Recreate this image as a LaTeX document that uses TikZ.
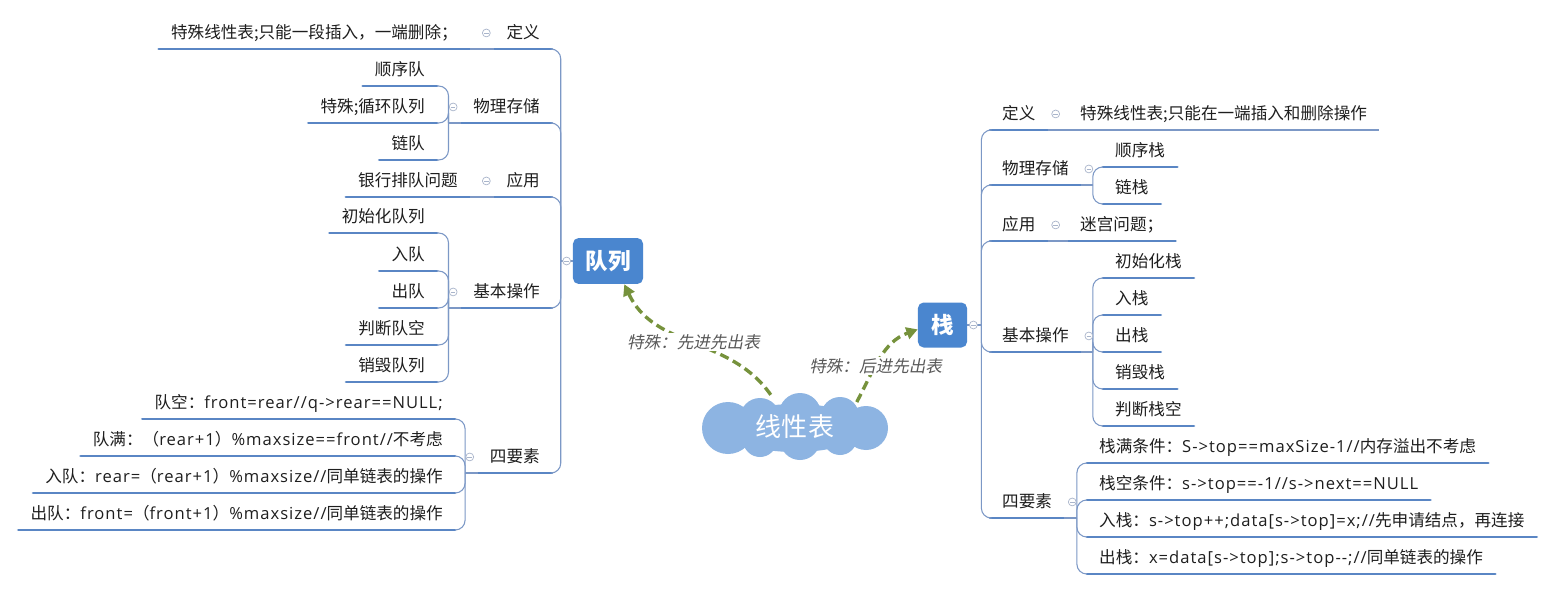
\documentclass[tikz,border=0pt]{standalone}
\usepackage{fontspec}
\setmainfont{Noto Sans CJK SC}
\newfontfamily\notefont[FakeSlant=0.2]{Noto Sans CJK SC}
\newfontfamily\enfont[LetterSpace=6]{Open Sans}
\newcommand\en[1]{{\enfont#1}}
\usetikzlibrary{arrows.meta, shapes.geometric}
\definecolor{mmblue}{HTML}{4A86CF}
\definecolor{mmcloud}{HTML}{8DB4E2}
\definecolor{mmline}{HTML}{5A86C4}
\definecolor{mmthin}{HTML}{7C98C6}
\definecolor{mmolive}{HTML}{76923C}
\definecolor{mmtext}{HTML}{1E1E1E}
\definecolor{mmnote}{HTML}{595959}
\definecolor{mmfold}{HTML}{A9B5CB}
\newcommand\mmfont{\fontsize{11.8pt}{14pt}\selectfont}
\tikzset{
  every picture/.style={line join=round},
  topic/.style={font=\mmfont, text=mmtext, inner xsep=8.5pt, inner ysep=4.5pt,
    text height=9pt, text depth=2.5pt},
  under/.style={append after command={(\tikzlastnode.south west)
    edge[uline] (\tikzlastnode.south east)}},
  ltopic/.style={topic, under, anchor=south east},
  rtopic/.style={topic, under, anchor=south west},
  rtopicthin/.style={topic, anchor=south west, append after command={
    (\tikzlastnode.south west) edge[link] (\tikzlastnode.south east)}},
  uline/.style={draw=mmline, line width=2.1pt, line cap=round},
  link/.style={draw=mmthin, line width=0.75pt, rounded corners=7pt},
  fold/.style={circle, draw=mmfold, fill=white, line width=0.5pt, minimum size=5.6pt,
    inner sep=0pt, path picture={\draw[mmfold, line width=0.5pt]
      ([xshift=-1.6pt]path picture bounding box.center) --
      ([xshift=1.6pt]path picture bounding box.center);}},
  root/.style={rectangle, rounded corners=4pt, fill=mmblue, text=white, inner sep=0pt,
    font=\fontsize{16pt}{18pt}\selectfont\bfseries},
  cloudnode/.style={ellipse, text=white, inner sep=0pt, minimum width=132pt,
    minimum height=47pt, font=\fontsize{18.5pt}{20pt}\selectfont},
  puff/.style={fill=mmcloud},
  rel/.style={-{Triangle[length=8pt, width=8.5pt]}, draw=mmolive, line width=2.4pt,
    dash pattern=on 6.5pt off 3.5pt},
  lbl/.style={font=\notefont\mmfont, text=mmnote, fill=white, inner sep=1pt},
}

\begin{document}
\begin{tikzpicture}[x=0.025cm, y=-0.025cm]
\fill[white] (0,0) rectangle (1561,591);
\useasboundingbox (0,0) rectangle (1561,591);

% ---- Centre cloud and the two main topics
\fill[puff] (795,428) ellipse[x radius=70, y radius=24];
\fill[puff] (728,428) circle[radius=26] (760,418) circle[radius=20]
  (800,414) circle[radius=21] (840,416) circle[radius=19] (866,428) circle[radius=22]
  (760,440) circle[radius=17] (800,440) circle[radius=20] (840,438) circle[radius=17];
\node[cloudnode] (lin) at (795,427) {线性表};
\node[root, minimum width=49.8pt, minimum height=32.7pt] (queue) at (608,261) {队列};
\node[root, minimum width=34.9pt, minimum height=32pt] (stack) at (942.5,325) {栈};

\draw[rel] (lin.127) to[out=125, in=-65] node[lbl, pos=0.5] {特殊：先进先出表} (queue.-55);
\draw[rel] (lin.22) to[out=62, in=200] node[lbl, pos=0.4] {特殊：后进先出表} (stack.190);

% ---- 队列 (left side, anchored on the right end of the underline)
\node[ltopic] (qdef)   at (552,49)  {定义};
\node[ltopic] (qstore) at (552,123) {物理存储};
\node[ltopic] (qapp)   at (552,197) {应用};
\node[ltopic] (qops)   at (552,308) {基本操作};
\node[ltopic] (qkey)   at (552,473) {四要素};

\node[ltopic] (qdefx) at (470,49)  {特殊线性表;只能一段插入，一端删除；};
\node[ltopic] (qappx) at (470,197) {银行排队问题};

\node[ltopic] (qseq)  at (437,86)  {顺序队};
\node[ltopic] (qcirc) at (437,123) {特殊;循环队列};
\node[ltopic] (qlink) at (437,160) {链队};

\node[ltopic] (qinit)  at (437,233) {初始化队列};
\node[ltopic] (qin)    at (437,271) {入队};
\node[ltopic] (qout)   at (437,308) {出队};
\node[ltopic] (qempty) at (437,345) {判断队空};
\node[ltopic] (qfree)  at (437,382) {销毁队列};

\node[ltopic] (qk1) at (455,419) {队空：\en{front=rear//q->rear==NULL;}};
\node[ltopic] (qk2) at (455,456) {队满：（\en{rear+1}）\en{\%maxsize==front//}不考虑};
\node[ltopic] (qk3) at (455,493) {入队：\en{rear=}（\en{rear+1}）\en{\%maxsize//}同单链表的操作};
\node[ltopic] (qk4) at (455,530) {出队：\en{front=}（\en{front+1}）\en{\%maxsize//}同单链表的操作};

\coordinate (qhub) at ([xshift=-8.5pt]queue.west);
\draw[link] (queue.west) -- (qhub);
\foreach \n in {qdef, qstore, qapp, qops, qkey}
  \draw[link] (qhub) |- (\n.south east);

\draw[link] (qdef.south west) -- (qdefx.south east);
\draw[link] (qapp.south west) -- (qappx.south east);

\coordinate (qstore-b) at ([xshift=-9pt]qstore.south west);
\draw[link] (qstore.south west) -- (qstore-b);
\foreach \n in {qseq, qcirc, qlink}
  \draw[link] (qstore-b) |- (\n.south east);

\coordinate (qops-b) at ([xshift=-9pt]qops.south west);
\draw[link] (qops.south west) -- (qops-b);
\foreach \n in {qinit, qin, qout, qempty, qfree}
  \draw[link] (qops-b) |- (\n.south east);

\coordinate (qkey-b) at ([xshift=-9pt]qkey.south west);
\draw[link] (qkey.south west) -- (qkey-b);
\foreach \n in {qk1, qk2, qk3, qk4}
  \draw[link] (qkey-b) |- (\n.south east);

% ---- 栈 (right side, anchored on the left end of the underline)
\node[rtopic] (sdef)   at (990,130) {定义};
\node[rtopic] (sstore) at (990,185) {物理存储};
\node[rtopic] (sapp)   at (990,241) {应用};
\node[rtopic] (sops)   at (990,352) {基本操作};
\node[rtopic] (skey)   at (990,518) {四要素};

\node[rtopicthin] (sdefx) at (1068,130) {特殊线性表;只能在一端插入和删除操作};
\node[rtopic] (sappx) at (1068,241) {迷宫问题；};

\node[rtopic] (sseq)  at (1103,167) {顺序栈};
\node[rtopic] (slink) at (1103,204) {链栈};

\node[rtopic] (sinit)  at (1103,278) {初始化栈};
\node[rtopic] (sin)    at (1103,315) {入栈};
\node[rtopic] (sout)   at (1103,352) {出栈};
\node[rtopic] (sfree)  at (1103,389) {销毁栈};
\node[rtopic] (sempty) at (1103,426) {判断栈空};

\node[rtopic] (sk1) at (1087,463) {栈满条件：\en{S->top==maxSize-1//}内存溢出不考虑};
\node[rtopic] (sk2) at (1087,500) {栈空条件：\en{s->top==-1//s->next==NULL}};
\node[rtopic] (sk3) at (1087,537) {入栈：\en{s->top++;data[s->top]=x;//}先申请结点，再连接};
\node[rtopic] (sk4) at (1087,574) {出栈：\en{x=data[s->top];s->top-{}-;//}同单链表的操作};

\coordinate (shub) at ([xshift=10pt]stack.east);
\draw[link] (stack.east) -- (shub);
\foreach \n in {sdef, sstore, sapp, sops, skey}
  \draw[link] (shub) |- (\n.south west);

\draw[link] (sdef.south east) -- (sdefx.south west);
\draw[link] (sapp.south east) -- (sappx.south west);

\coordinate (sstore-b) at ([xshift=8.5pt]sstore.south east);
\draw[link] (sstore.south east) -- (sstore-b);
\foreach \n in {sseq, slink}
  \draw[link] (sstore-b) |- (\n.south west);

\coordinate (sops-b) at ([xshift=8.5pt]sops.south east);
\draw[link] (sops.south east) -- (sops-b);
\foreach \n in {sinit, sin, sout, sfree, sempty}
  \draw[link] (sops-b) |- (\n.south west);

\coordinate (skey-b) at ([xshift=9pt]skey.south east);
\draw[link] (skey.south east) -- (skey-b);
\foreach \n in {sk1, sk2, sk3, sk4}
  \draw[link] (skey-b) |- (\n.south west);

% ---- Fold markers
\node[fold] (queue-f) at ([xshift=-4.3pt]queue.west) {};
\node[fold] (stack-f) at ([xshift=4.3pt]stack.east) {};
\foreach \n in {qdef, qstore, qapp, qops, qkey}
  \node[fold] (\n-f) at ([shift={(-5.7pt,11.4pt)}]\n.south west) {};
\foreach \n in {sdef, sstore, sapp, sops, skey}
  \node[fold] (\n-f) at ([shift={(5.7pt,11.4pt)}]\n.south east) {};

\end{tikzpicture}
\end{document}
